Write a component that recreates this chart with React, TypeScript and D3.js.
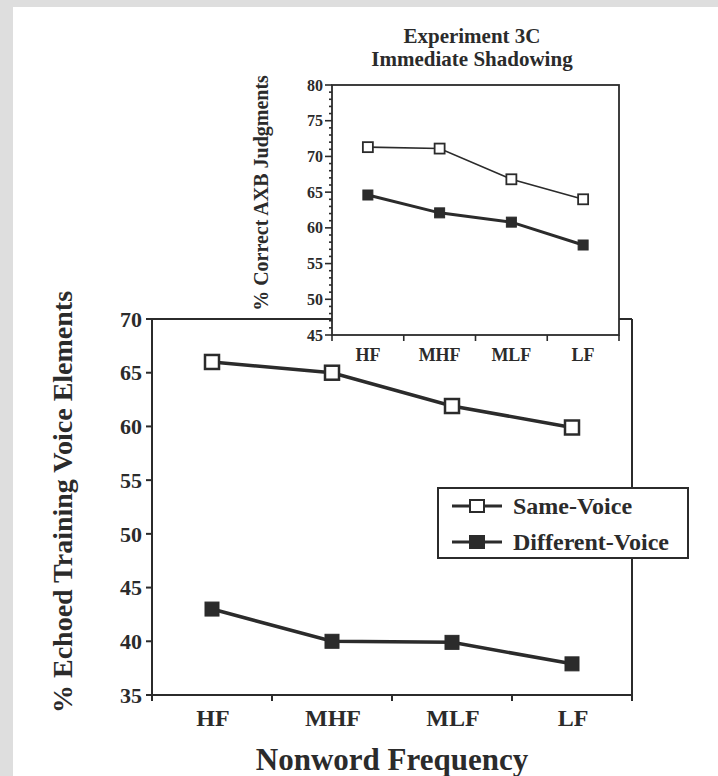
import React from "react";
import * as d3 from "d3";

const categories = ["HF", "MHF", "MLF", "LF"];
const mainSame = [66, 65, 61.9, 59.9];
const mainDiff = [43, 40, 39.9, 37.9];
const mainTicks = [35, 40, 45, 50, 55, 60, 65, 70];
const insetSame = [71.3, 71.1, 66.8, 64];
const insetDiff = [64.6, 62.1, 60.8, 57.6];
const insetTicks = [45, 50, 55, 60, 65, 70, 75, 80];
const insetMinor = d3.range(45, 81, 1);
const titleLines = ["Experiment 3C", "Immediate Shadowing"];
const legendLabels = ["Same-Voice", "Different-Voice"];

const INK = "#2b2b2b";
const FONT = "'Liberation Serif', 'Times New Roman', serif";

export default function App() {
  const W = 718, H = 776;
  const mx = d3.scaleBand().domain(categories).range([152, 632]);
  const my = d3.scaleLinear().domain([35, 70]).range([695, 319]);
  const ix = d3.scaleBand().domain(categories).range([332, 619]);
  const iy = d3.scaleLinear().domain([45, 80]).range([335, 85]);

  const mline = d3.line<number>().x((_, i) => mx(categories[i])! + mx.bandwidth() / 2).y(d => my(d));
  const iline = d3.line<number>().x((_, i) => ix(categories[i])! + ix.bandwidth() / 2).y(d => iy(d));

  const mcx = (i: number) => mx(categories[i])! + mx.bandwidth() / 2;
  const icx = (i: number) => ix(categories[i])! + ix.bandwidth() / 2;

  const ms = 14;
  const is = 10;

  return (
    <svg width={W} height={H} style={{ position: "absolute", left: 0, top: 0 }} fontFamily={FONT}>
      <rect x={0} y={0} width={W} height={H} fill="#dedede" />
      <rect x={13} y={7} width={W - 13} height={H - 7} fill="#ffffff" />

      {/* main frame */}
      <g stroke={INK} strokeWidth={2} fill="none">
        <line x1={152} y1={319} x2={152} y2={695} />
        <line x1={152} y1={695} x2={632} y2={695} />
        <line x1={152} y1={319} x2={632} y2={319} />
        <line x1={632} y1={319} x2={632} y2={695} />
        {mainTicks.map(t => (
          <line key={t} x1={146} y1={my(t)} x2={152} y2={my(t)} />
        ))}
        {d3.range(0, categories.length + 1).map(i => {
          const x = 152 + i * mx.step();
          return <line key={i} x1={x} y1={695} x2={x} y2={701} />;
        })}
      </g>
      {mainTicks.map(t => (
        <text key={t} x={142} y={my(t)} dy="0.35em" textAnchor="end" fontSize={22} fontWeight="bold" fill={INK}>{t}</text>
      ))}
      {categories.map((c, i) => (
        <text key={c} x={mcx(i) + 1} y={726} textAnchor="middle" fontSize={24} fontWeight="bold" fill={INK}>{c}</text>
      ))}
      <text x={392} y={770} textAnchor="middle" fontSize={31} fontWeight="bold" fill={INK}>Nonword Frequency</text>
      <text transform="translate(72,502) rotate(-90)" textAnchor="middle" fontSize={28} fontWeight="bold" fill={INK}>% Echoed Training Voice Elements</text>

      {/* main series */}
      <path d={mline(mainSame)!} fill="none" stroke={INK} strokeWidth={3.5} />
      <path d={mline(mainDiff)!} fill="none" stroke={INK} strokeWidth={3.5} />
      {mainSame.map((v, i) => (
        <rect key={i} x={mcx(i) - ms / 2} y={my(v) - ms / 2} width={ms} height={ms} fill="#fff" stroke={INK} strokeWidth={2.5} />
      ))}
      {mainDiff.map((v, i) => (
        <rect key={i} x={mcx(i) - ms / 2} y={my(v) - ms / 2} width={ms} height={ms} fill={INK} stroke={INK} strokeWidth={1} />
      ))}

      {/* legend */}
      <rect x={438} y={488} width={250} height={70} fill="#fff" stroke={INK} strokeWidth={2} />
      {legendLabels.map((l, i) => {
        const y = 506 + i * 36;
        return (
          <g key={l}>
            <line x1={452} y1={y} x2={502} y2={y} stroke={INK} strokeWidth={3} />
            <rect x={477 - 7} y={y - 6} width={14} height={12} fill={i === 0 ? "#fff" : INK} stroke={INK} strokeWidth={2} />
            <text x={513} y={y} dy="0.35em" fontSize={24} fontWeight="bold" fill={INK}>{l}</text>
          </g>
        );
      })}

      {/* inset */}
      <rect x={332} y={85} width={287} height={250} fill="#fff" stroke={INK} strokeWidth={1.8} />
      <g stroke={INK} strokeWidth={1.6}>
        {insetMinor.map(t => (
          <line key={t} x1={insetTicks.includes(t) ? 325 : 329} y1={iy(t)} x2={332} y2={iy(t)} />
        ))}
        {d3.range(0, categories.length + 1).map(i => {
          const x = 332 + i * ix.step();
          return <line key={i} x1={x} y1={335} x2={x} y2={341} />;
        })}
      </g>
      {insetTicks.map(t => (
        <text key={t} x={323} y={iy(t)} dy="0.35em" textAnchor="end" fontSize={16} fontWeight="bold" fill={INK}>{t}</text>
      ))}
      {categories.map((c, i) => (
        <text key={c} x={icx(i)} y={361} textAnchor="middle" fontSize={18} fontWeight="bold" fill={INK}>{c}</text>
      ))}
      <text transform="translate(268,193) rotate(-90)" textAnchor="middle" fontSize={20} fontWeight="bold" fill={INK}>% Correct AXB Judgments</text>
      {titleLines.map((t, i) => (
        <text key={t} x={472} y={43 + i * 23} textAnchor="middle" fontSize={21} fontWeight="bold" fill={INK}>{t}</text>
      ))}

      <path d={iline(insetSame)!} fill="none" stroke={INK} strokeWidth={1.6} />
      <path d={iline(insetDiff)!} fill="none" stroke={INK} strokeWidth={3} />
      {insetSame.map((v, i) => (
        <rect key={i} x={icx(i) - is / 2} y={iy(v) - is / 2} width={is} height={is} fill="#fff" stroke={INK} strokeWidth={1.8} />
      ))}
      {insetDiff.map((v, i) => (
        <rect key={i} x={icx(i) - is / 2} y={iy(v) - is / 2} width={is} height={is} fill={INK} stroke={INK} strokeWidth={1} />
      ))}
    </svg>
  );
}
